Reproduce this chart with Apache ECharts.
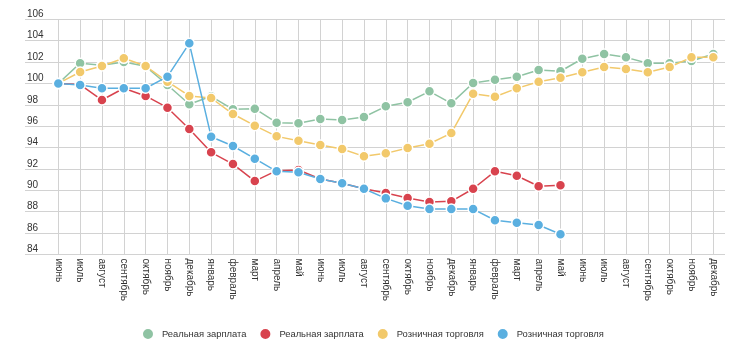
<!DOCTYPE html>
<html>
<head>
<meta charset="utf-8">
<script src="https://cdn.jsdelivr.net/npm/echarts@6/dist/echarts.min.js"></script>
<style>
  html, body { margin: 0; padding: 0; background: #fff; }
  #chart { width: 750px; height: 354px; }
</style>
</head>
<body>
<div id="chart"></div>
<script>
const categories = ['июнь','июль','август','сентябрь','октябрь','ноябрь','декабрь','январь','февраль','март','апрель','май',
  'июнь','июль','август','сентябрь','октябрь','ноябрь','декабрь','январь','февраль','март','апрель','май',
  'июнь','июль','август','сентябрь','октябрь','ноябрь','декабрь'];

const seriesNames = ['Реальная зарплата', 'Реальная зарплата', 'Розничная торговля', 'Розничная торговля'];

const wageGreen = [100, 101.9, 101.7, 102.0, 101.6, 99.85, 98.05, 98.8, 97.58, 97.64, 96.33, 96.27,
  96.67, 96.58, 96.86, 97.86, 98.24, 99.26, 98.14, 100.04, 100.35, 100.63, 101.26, 101.14,
  102.31, 102.75, 102.44, 101.88, 101.9, 102.1, 102.75];

const wageRed = [100, 99.9, 98.45, 99.55, 98.83, 97.73, 95.74, 93.56, 92.46, 90.87, 91.84, 91.9,
  91.06, 90.66, 90.15, 89.75, 89.28, 88.91, 88.97, 90.15, 91.78, 91.37, 90.38, 90.47];

const retailYellow = [100, 101.07, 101.63, 102.35, 101.63, 100.16, 98.83, 98.64, 97.14, 96.05, 95.05, 94.64,
  94.24, 93.87, 93.18, 93.46, 93.96, 94.36, 95.36, 99.04, 98.76, 99.54, 100.16, 100.54,
  101.04, 101.54, 101.35, 101.04, 101.54, 102.44, 102.44];

const retailBlue = [100, 99.85, 99.55, 99.55, 99.55, 100.63, 103.75, 95.02, 94.15, 92.96, 91.78, 91.69,
  91.06, 90.66, 90.15, 89.25, 88.56, 88.25, 88.25, 88.25, 87.2, 86.97, 86.76, 85.89];

const yTicks = [84, 86, 88, 90, 92, 94, 96, 98, 100, 102, 104, 106];

const colors = ['#8fc3a3', '#d8434e', '#f2c96b', '#5aafe0'];
const dataSets = [wageGreen, wageRed, retailYellow, retailBlue];
const keys = ['s1', 's2', 's3', 's4'];

const chart = echarts.init(document.getElementById('chart'), null, { renderer: 'canvas' });

const gridTop = 19.3, gridBottom = 354 - 254.5;

const option = {
  animation: false,
  backgroundColor: '#fff',
  grid: [
    { left: 25, right: 25, top: gridTop, bottom: gridBottom },
    { left: 58.3, right: 750 - 713.3, top: gridTop, bottom: gridBottom }
  ],
  xAxis: [
    { gridIndex: 0, type: 'value', min: 0, max: 1, show: false },
    {
      gridIndex: 1, type: 'category', data: categories, boundaryGap: false,
      axisLine: { show: false }, axisTick: { show: false },
      splitLine: { show: true, lineStyle: { color: '#d2d2d2', width: 1 } },
      axisLabel: { rotate: -90, margin: 4, fontSize: 10, color: '#333', fontFamily: 'Liberation Sans, Arial, sans-serif', interval: 0 }
    }
  ],
  yAxis: [
    {
      gridIndex: 0, type: 'value', min: yTicks[0], max: yTicks[yTicks.length - 1], interval: 2,
      axisLine: { show: false }, axisTick: { show: false },
      splitLine: { show: true, lineStyle: { color: '#d2d2d2', width: 1 } },
      axisLabel: {
        inside: true, margin: 2, fontSize: 10, color: '#333', fontFamily: 'Liberation Sans, Arial, sans-serif',
        verticalAlign: 'bottom', padding: [0, 0, 0, 0]
      }
    },
    {
      gridIndex: 1, type: 'value', min: yTicks[0], max: yTicks[yTicks.length - 1], interval: 2,
      show: false, splitLine: { show: false }
    }
  ],
  legend: {
    data: keys,
    left: 141, top: 327, padding: 0,
    icon: 'circle', itemWidth: 12, itemHeight: 12, itemGap: 12,
    formatter: function (name) { return seriesNames[keys.indexOf(name)]; },
    textStyle: { fontSize: 9.4, color: '#333', fontFamily: 'Liberation Sans, Arial, sans-serif', padding: [0, 0, 0, 3] }
  },
  series: dataSets.map(function (d, i) {
    return {
      name: keys[i], type: 'line', xAxisIndex: 1, yAxisIndex: 1, data: d,
      symbol: 'circle', symbolSize: 10, showSymbol: true,
      lineStyle: { color: colors[i], width: 1.5 },
      itemStyle: { color: colors[i], borderColor: '#fff', borderWidth: 1.5 },
      z: 2 + i
    };
  })
};

chart.setOption(option);
</script>
</body>
</html>
